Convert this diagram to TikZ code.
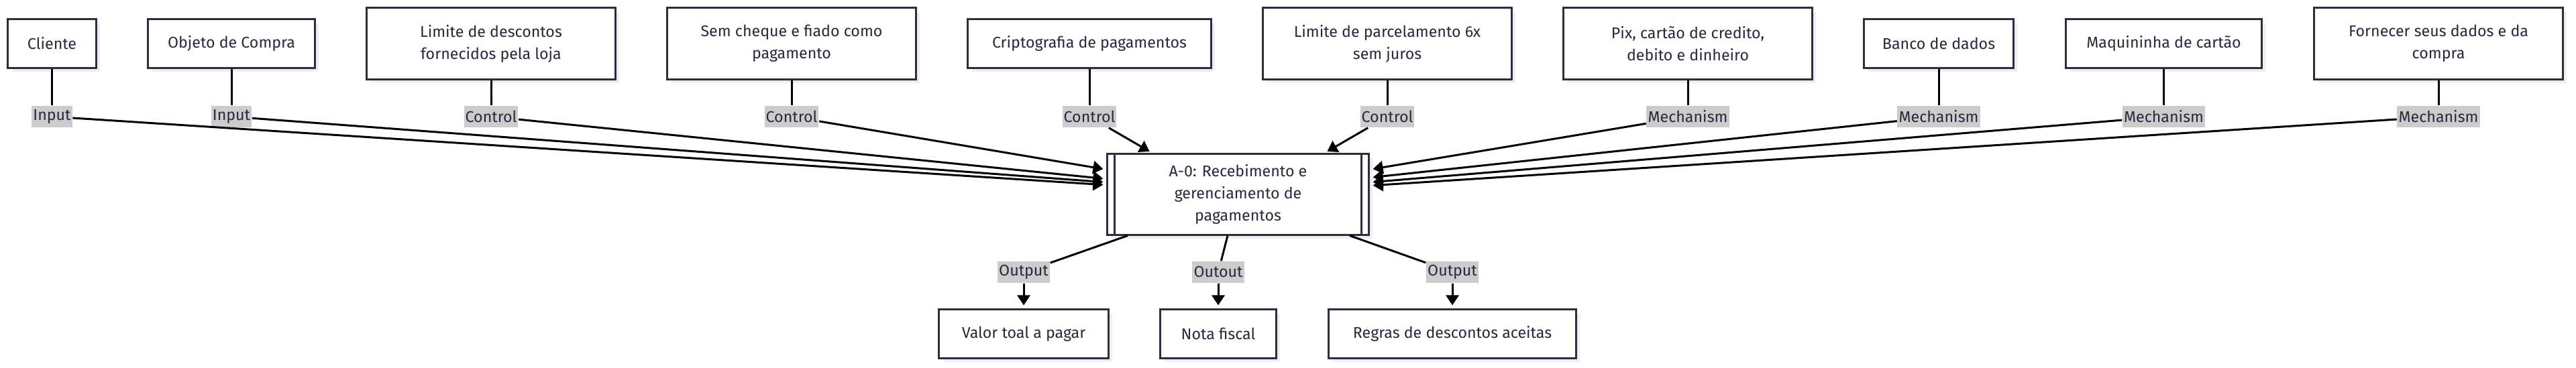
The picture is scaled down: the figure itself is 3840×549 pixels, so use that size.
\documentclass[tikz,border=0pt]{standalone}
\usepackage{fontspec}
\setmainfont{Fira Sans}
\usetikzlibrary{arrows.meta,shadows}
\definecolor{boxline}{RGB}{45,45,66}
\definecolor{boxtext}{RGB}{40,40,62}
\definecolor{tagfill}{RGB}{204,204,204}
\definecolor{shade}{RGB}{238,238,238}

\begin{document}
\begin{tikzpicture}[x=0.01cm, y=-0.01cm,
    >={Triangle[length=0.15cm,width=0.19cm]},
    every node/.style={font=\fontsize{6.6}{9.4}\selectfont, text=boxtext},
    box/.style={draw=boxline, line width=0.03cm, fill=white, align=center, inner sep=0pt,
      minimum height=0.72cm,
      drop shadow={shadow xshift=0.06cm, shadow yshift=-0.06cm, fill=shade, opacity=1}},
    tallbox/.style={box, minimum height=1.06cm},
    tag/.style={fill=tagfill, inner xsep=0.6pt, inner ysep=0pt, minimum height=0.32cm},
    link/.style={line width=0.03cm},
    feed/.style={link, ->, shorten >=0.05cm}]
    \useasboundingbox (0,0) rectangle (3840,549);

    % mechanisms, controls and inputs
    \node[box, minimum width=1.31cm] (cliente) at (77.5,65) {Cliente};
    \node[box, minimum width=2.48cm] (objeto) at (345,65) {Objeto de Compra};
    \node[tallbox, minimum width=3.70cm] (limdesc) at (732,65) {Limite de descontos\\fornecidos pela loja};
    \node[tallbox, minimum width=3.70cm] (semcheque) at (1180,65) {Sem cheque e fiado como\\pagamento};
    \node[box, minimum width=3.62cm] (cripto) at (1624,65) {Criptografia de pagamentos};
    \node[tallbox, minimum width=3.70cm] (limparc) at (2068,65) {Limite de parcelamento 6x\\sem juros};
    \node[tallbox, minimum width=3.70cm] (pix) at (2516,65) {Pix, cartão de credito,\\debito e dinheiro};
    \node[box, minimum width=2.22cm] (banco) at (2890,65) {Banco de dados};
    \node[box, minimum width=2.91cm] (maquina) at (3225.5,65) {Maquininha de cartão};
    \node[tallbox, minimum width=3.70cm] (fornecer) at (3635,65) {Fornecer seus dados e da\\compra};

    \node[tag] (in1) at (77.5,174) {Input};
    \node[tag] (in2) at (345,174) {Input};
    \node[tag] (ctl1) at (732,174) {Control};
    \node[tag] (ctl2) at (1180,174) {Control};
    \node[tag] (ctl3) at (1624,174) {Control};
    \node[tag] (ctl4) at (2068,174) {Control};
    \node[tag] (mec1) at (2516,174) {Mechanism};
    \node[tag] (mec2) at (2890,174) {Mechanism};
    \node[tag] (mec3) at (3225.5,174) {Mechanism};
    \node[tag] (mec4) at (3635,174) {Mechanism};

    % activity
    \node[box, minimum width=3.89cm, minimum height=1.20cm] (main) at (1845.5,290) {A-0: Recebimento e\\gerenciamento de\\pagamentos};
    \draw[link, boxline] ([xshift=0.12cm]main.north west) -- ([xshift=0.12cm]main.south west);
    \draw[link, boxline] ([xshift=-0.12cm]main.north east) -- ([xshift=-0.12cm]main.south east);

    % outputs
    \node[tag] (out1) at (1526,406) {Output};
    \node[tag] (out2) at (1816,406) {Outout};
    \node[tag] (out3) at (2165,406) {Output};
    \node[box, minimum width=2.52cm] (valor) at (1526,498) {Valor toal a pagar};
    \node[box, minimum width=1.72cm] (nota) at (1816,498) {Nota fiscal};
    \node[box, minimum width=3.68cm] (regras) at (2165,498) {Regras de descontos aceitas};

    \draw[link] (cliente) -- (in1);
    \draw[link] (objeto) -- (in2);
    \draw[link] (limdesc) -- (ctl1);
    \draw[link] (semcheque) -- (ctl2);
    \draw[link] (cripto) -- (ctl3);
    \draw[link] (limparc) -- (ctl4);
    \draw[link] (pix) -- (mec1);
    \draw[link] (banco) -- (mec2);
    \draw[link] (maquina) -- (mec3);
    \draw[link] (fornecer) -- (mec4);

    \draw[feed] (in1) -- ([yshift=0.14cm]main.west);
    \draw[feed] (in2) -- ([yshift=0.18cm]main.west);
    \draw[feed] (ctl1) -- ([yshift=0.23cm]main.west);
    \draw[feed] (ctl2) -- ([yshift=0.37cm]main.west);
    \draw[feed] (ctl3) -- ([xshift=-1.275cm]main.north);
    \draw[feed] (ctl4) -- ([xshift=1.285cm]main.north);
    \draw[feed] (mec1) -- ([yshift=0.37cm]main.east);
    \draw[feed] (mec2) -- ([yshift=0.25cm]main.east);
    \draw[feed] (mec3) -- ([yshift=0.18cm]main.east);
    \draw[feed] (mec4) -- ([yshift=0.13cm]main.east);

    \draw[link] ([xshift=-1.645cm]main.south) -- (out1);
    \draw[link] ([xshift=-0.155cm]main.south) -- (out2);
    \draw[link] ([xshift=1.665cm]main.south) -- (out3);
    \draw[feed] (out1) -- (valor);
    \draw[feed] (out2) -- (nota);
    \draw[feed] (out3) -- (regras);
\end{tikzpicture}
\end{document}
